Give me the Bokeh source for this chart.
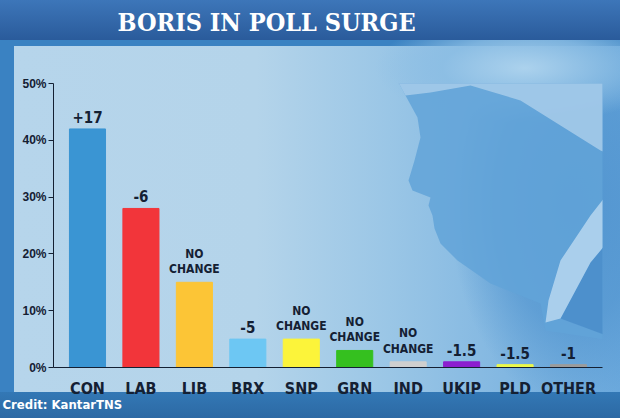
from bokeh.plotting import figure
from bokeh.models import (FactorRange, Range1d, Title, PrintfTickFormatter, FixedTicker,
                          ColumnDataSource)
from bokeh.core.properties import value
from bokeh.embed import file_html
from bokeh.resources import INLINE

# ---- data ----
parties = ["CON", "LAB", "LIB", "BRX", "SNP", "GRN", "IND", "UKIP", "PLD", "OTHER"]
shares = [42, 28, 15, 5, 5, 3, 1, 1, 0.5, 0.5]
changes = ["+17", "-6", "NO CHANGE", "-5", "NO CHANGE", "NO CHANGE", "NO CHANGE",
           "-1.5", "-1.5", "-1"]
bar_colors = ["#3a95d3", "#f2353a", "#fcc536", "#6dc7f3", "#fcf43a", "#35c01f",
              "#cfcfcf", "#8c1fcf", "#edf94a", "#9c9c9c"]
y_ticks = [0, 10, 20, 30, 40, 50]
title_text = "BORIS IN POLL SURGE"
credit_text = "Credit: KantarTNS"

# ---- layout (canvas pixels) ----
W, H = 620, 418
FL, FR, FT, FB = 53, 602, 83, 367
PAD = 0.136

NARROW = "'Liberation Sans Narrow', 'DejaVu Sans Condensed', 'Liberation Sans'"
SLAB = "'DejaVu Serif Condensed', 'DejaVu Serif'"
INK = "#142033"

p = figure(width=W, height=H,
           x_range=FactorRange(factors=parties, range_padding=PAD,
                               range_padding_units="absolute"),
           y_range=Range1d(0, 50),
           output_backend="svg", toolbar_location=None, title=None,
           min_border_left=FL, min_border_right=W - FR,
           min_border_top=FT, min_border_bottom=H - FB)
p.extra_y_ranges = {"px": Range1d(FB, FT)}

# backdrop painted with CSS behind a transparent canvas
p.border_fill_color = None
p.background_fill_color = None
p.outline_line_color = None
p.xgrid.grid_line_color = None
p.ygrid.grid_line_color = None
p.styles = {
    "background": ", ".join([
        "linear-gradient(180deg, #3d76b9 0%, #2a5b9b 100%) 0 0 / 100% 40px no-repeat",
        "linear-gradient(180deg, #3378b5 0%, #2c69a4 100%) 0 392px / 100% 26px no-repeat",
        "radial-gradient(ellipse 150px 55px at 525px 68px, rgba(175,212,238,0.95) 0%, "
        "rgba(140,190,228,0.8) 55%, rgba(110,168,218,0) 100%)",
        "radial-gradient(ellipse 120px 200px at 570px 205px, rgba(78,146,206,0.9) 0%, "
        "rgba(78,146,206,0.6) 60%, rgba(78,146,206,0) 100%)",
        "linear-gradient(90deg, #b6d5eb 0%, #b4d4ea 40%, #9ac6e6 62%, #6aa8dc 100%) "
        "14px 46px / 606px 346px no-repeat",
        "#3a82c2",
    ])
}

SPAN = len(parties) + 2 * PAD


def sx(cx):
    """canvas pixel -> synthetic categorical coordinate"""
    return -PAD + (cx - FL) / (FR - FL) * SPAN


def shape(pts, color, alpha=1.0):
    p.patch([sx(x) for x, _ in pts], [y for _, y in pts], y_range_name="px",
            fill_color=color, fill_alpha=alpha, line_alpha=0)


# stylised portrait, drawn first so the bars sit on top (pixel coords)
shape([(388, 40), (390, 67), (405, 95), (417, 117), (420, 137), (414, 160), (408, 180),
       (412, 190), (430, 197), (428, 205), (432, 215), (434, 228), (440, 243),
       (457, 260), (490, 283), (540, 303), (545, 330), (625, 342), (625, 40)],
      "#62a3d8", 0.85)
shape([(388, 40), (390, 67), (405, 95), (430, 92), (470, 85), (520, 100), (560, 125),
       (600, 150), (625, 160), (625, 40)], "#a8cdea", 0.85)
shape([(625, 220), (590, 262), (560, 318), (625, 342)], "#4b8ecb", 0.9)
shape([(625, 170), (590, 215), (560, 260), (548, 300), (545, 322), (560, 318),
       (590, 262), (625, 220)], "#b3d4ee", 0.9)

# ---- bars ----
labels = [c.replace("NO CHANGE", "NO\nCHANGE") for c in changes]
sizes = ["12px" if c == "NO CHANGE" else "15px" for c in changes]
src = ColumnDataSource(dict(party=parties, share=shares, color=bar_colors,
                            label=labels, fs=sizes))
p.vbar(x="party", top="share", width=0.675, source=src, fill_color="color",
       line_color="color", line_width=1)
p.text(x="party", y="share", text="label", source=src, text_align="center",
       text_baseline="bottom", y_offset=-6, text_font=value(NARROW),
       text_font_style="bold", text_font_size="fs", text_color=INK,
       text_line_height=1.1)

# ---- axes ----
p.yaxis.ticker = FixedTicker(ticks=y_ticks)
p.yaxis.formatter = PrintfTickFormatter(format="%d%%")
p.yaxis.minor_tick_line_color = None
p.yaxis.major_tick_out = 5
p.yaxis.major_tick_in = 0
p.yaxis.major_label_standoff = 2
p.yaxis.major_label_text_font = "Liberation Sans"
p.yaxis.major_label_text_font_style = "bold"
p.yaxis.major_label_text_font_size = "12px"
p.yaxis.major_label_text_color = INK
p.yaxis.axis_line_color = INK
p.yaxis.major_tick_line_color = INK

p.xaxis.major_tick_line_color = None
p.xaxis.minor_tick_line_color = None
p.xaxis.axis_line_color = INK
p.xaxis.major_label_standoff = 5
p.xaxis.major_label_text_font = NARROW
p.xaxis.major_label_text_font_style = "bold"
p.xaxis.major_label_text_font_size = "16px"
p.xaxis.major_label_text_color = INK

# ---- title banner text and credit ----
# an invisible spacer next to the frame pushes the headline up into the banner
p.add_layout(Title(text=" ", text_font_size="2px", standoff=34), "above")
p.add_layout(Title(text=title_text, align="left", offset=64, standoff=14,
                   vertical_align="top",
                   text_font=SLAB, text_font_style="bold", text_font_size="25px",
                   text_color="white"), "above")
p.add_layout(Title(text=credit_text, align="left", offset=-51, standoff=-8,
                   vertical_align="top",
                   text_font=NARROW, text_font_style="bold", text_font_size="13px",
                   text_color="white"), "below")

open("out.html", "w").write(file_html(p, INLINE))
